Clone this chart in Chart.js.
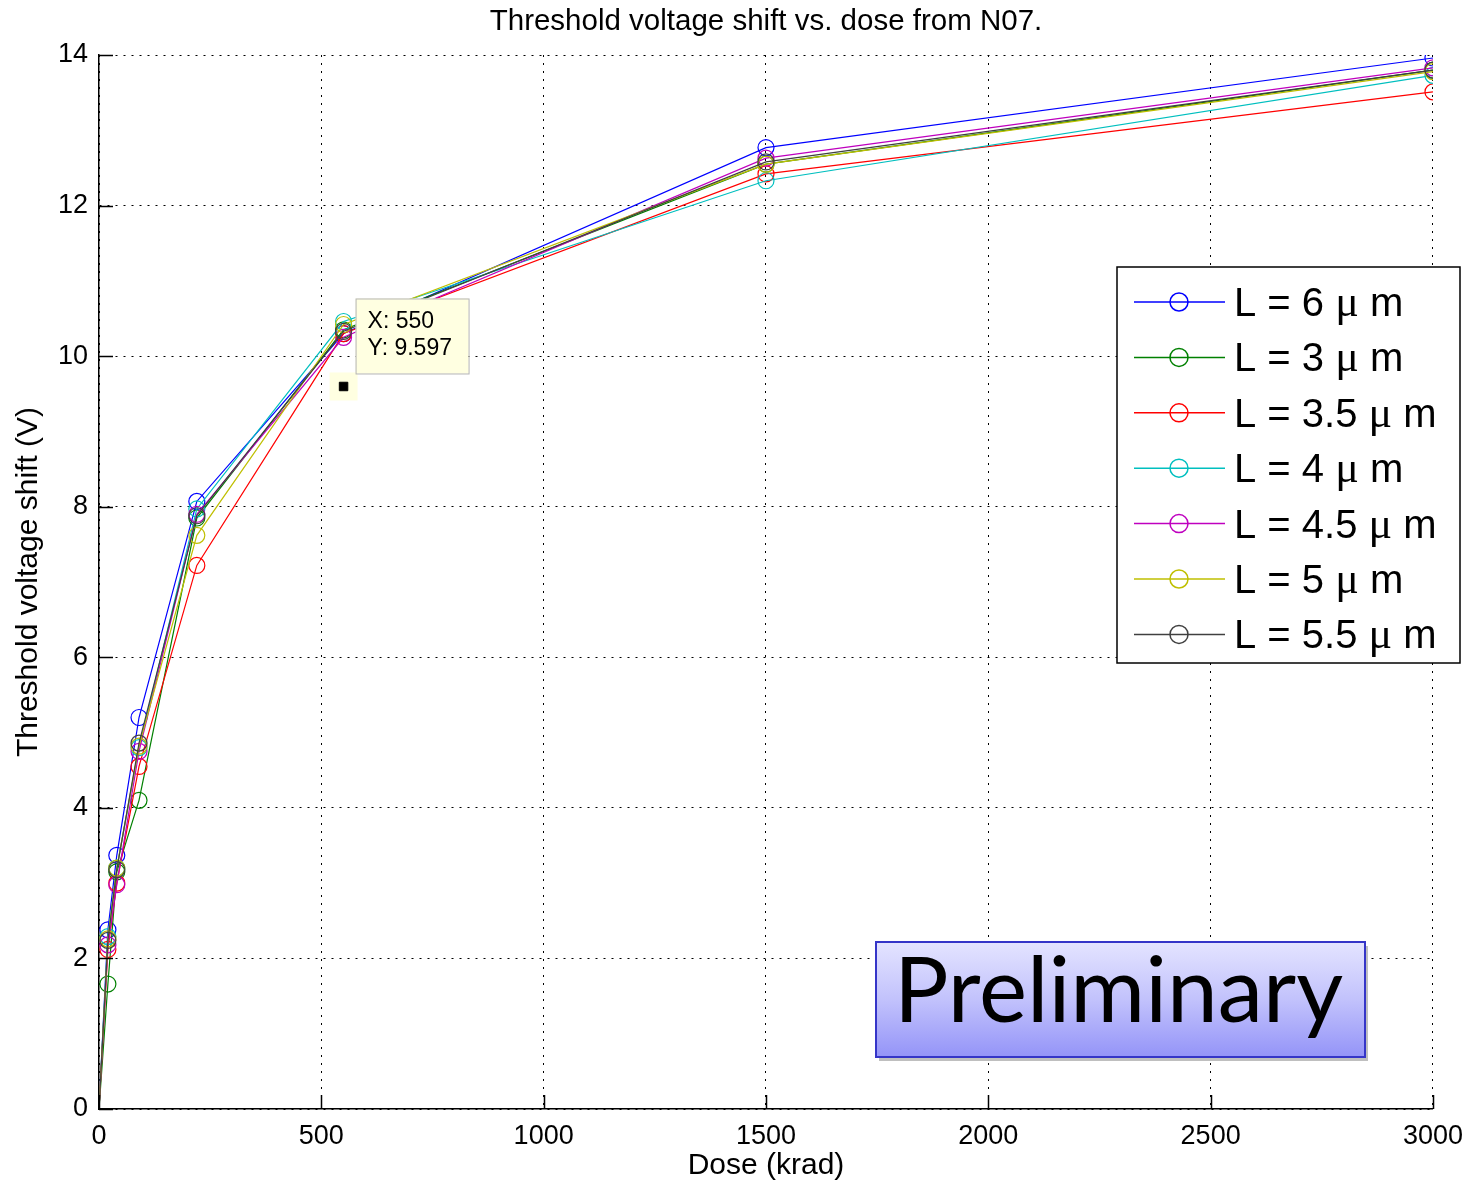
<!DOCTYPE html>
<html lang="en">
<head>
    <meta charset="UTF-8">
    <title>Threshold voltage shift vs. dose from N07.</title>
    <script src="https://cdn.jsdelivr.net/npm/chart.js"></script>
    <style>
        html, body { margin: 0; padding: 0; background: #fff; }
        #wrap { width: 1474px; height: 1186px; position: relative; }
    </style>
</head>
<body>
    <div id="wrap"><canvas id="vthChart"></canvas></div>
    <script>
// dose points (krad) and threshold voltage shift (V) per gate length
const doses = [0, 20, 40, 90, 220, 550, 1500, 3000];
const shiftL6   = [0, 2.38, 3.37, 5.20, 8.07, 10.30, 12.77, 13.96];
const shiftL3   = [0, 1.66, 3.15, 4.10, 7.85, 10.35, 12.55, 13.80];
const shiftL3_5 = [0, 2.12, 3.00, 4.55, 7.22, 10.30, 12.42, 13.51];
const shiftL4   = [0, 2.29, 3.20, 4.80, 7.97, 10.46, 12.33, 13.73];
const shiftL4_5 = [0, 2.18, 2.98, 4.75, 7.90, 10.25, 12.63, 13.83];
const shiftL5   = [0, 2.26, 3.20, 4.82, 7.62, 10.42, 12.55, 13.78];
const shiftL5_5 = [0, 2.24, 3.18, 4.86, 7.88, 10.33, 12.58, 13.80];

const lengths = ['6', '3', '3.5', '4', '4.5', '5', '5.5'];
const seriesValues = [shiftL6, shiftL3, shiftL3_5, shiftL4, shiftL4_5, shiftL5, shiftL5_5];
const colors = ['#0000ff', '#008000', '#ff0000', '#00bfbf', '#bf00bf', '#bfbf00', '#404040'];

// datatip shown on the plot
const tipX = [550];
const tipY = [9.597];

const xTicks = [0, 500, 1000, 1500, 2000, 2500, 3000];
const yTicks = [0, 2, 4, 6, 8, 10, 12, 14];

const SANS = '"Liberation Sans", Arial, sans-serif';

const datasets = seriesValues.map((vals, i) => ({
    label: 'L = ' + lengths[i] + ' \u03bc m',
    data: doses.map((d, k) => ({ x: d, y: vals[k] })),
    showLine: true,
    borderColor: colors[i],
    borderWidth: 1.2,
    backgroundColor: 'rgba(0,0,0,0)',
    pointBorderColor: colors[i],
    pointBackgroundColor: 'rgba(0,0,0,0)',
    pointBorderWidth: 1.2,
    pointRadius: doses.map(d => d === 0 ? 0 : 8),
    pointHoverRadius: 8,
    order: seriesValues.length - i + 1
}));

datasets.push({
    label: 'datatip',
    data: tipX.map((x, k) => ({ x: x, y: tipY[k] })),
    showLine: false,
    pointStyle: 'rect',
    pointRadius: 6,
    pointBackgroundColor: '#000',
    pointBorderColor: '#000',
    order: 0
});

const overlay = {
    id: 'overlay',
    beforeDatasetsDraw(chart) {
        const ctx = chart.ctx;
        const xs = chart.scales.x, ys = chart.scales.y;
        const px = xs.getPixelForValue(tipX[0]);
        const py = ys.getPixelForValue(tipY[0]);
        ctx.save();
        ctx.fillStyle = '#ffffe1';
        ctx.fillRect(px - 14, py - 14, 28, 28);
        ctx.restore();
    },
    afterDraw(chart) {
        const ctx = chart.ctx;
        const area = chart.chartArea;
        const xs = chart.scales.x, ys = chart.scales.y;
        ctx.save();

        // title
        ctx.fillStyle = '#000';
        ctx.font = '29.5px ' + SANS;
        ctx.textAlign = 'center';
        ctx.textBaseline = 'middle';
        ctx.fillText('Threshold voltage shift vs. dose from N07.', 766, 22);

        // inward tick marks
        ctx.strokeStyle = '#000';
        ctx.lineWidth = 1.5;
        ctx.beginPath();
        xTicks.forEach(v => {
            const p = Math.round(xs.getPixelForValue(v)) + 0.5;
            ctx.moveTo(p, area.bottom);
            ctx.lineTo(p, area.bottom - 14);
        });
        yTicks.forEach(v => {
            const p = Math.round(ys.getPixelForValue(v)) + 0.5;
            ctx.moveTo(area.left, p);
            ctx.lineTo(area.left + 14, p);
        });
        ctx.stroke();

        // datatip box
        const px = xs.getPixelForValue(tipX[0]);
        const py = ys.getPixelForValue(tipY[0]);
        const bx = px + 12, by = py - 88;
        ctx.fillStyle = '#ffffe1';
        ctx.strokeStyle = '#b4b4b4';
        ctx.lineWidth = 1;
        ctx.fillRect(bx, by, 113, 75);
        ctx.strokeRect(bx + 0.5, by + 0.5, 113, 75);
        ctx.fillStyle = '#000';
        ctx.font = '23px ' + SANS;
        ctx.textAlign = 'left';
        ctx.textBaseline = 'middle';
        ctx.fillText('X: ' + tipX[0], bx + 12, by + 23);
        ctx.fillText('Y: ' + tipY[0], bx + 12, by + 50);

        // legend
        const lx = 1117, ly = 267, lw = 343, lh = 396;
        ctx.fillStyle = '#fff';
        ctx.fillRect(lx, ly, lw, lh);
        ctx.strokeStyle = '#000';
        ctx.lineWidth = 1.5;
        ctx.strokeRect(lx, ly, lw, lh);
        lengths.forEach((len, i) => {
            const cy = ly + 35 + i * 55.4;
            ctx.strokeStyle = colors[i];
            ctx.lineWidth = 1.5;
            ctx.beginPath();
            ctx.moveTo(lx + 17, cy);
            ctx.lineTo(lx + 108, cy);
            ctx.stroke();
            ctx.beginPath();
            ctx.arc(lx + 62, cy, 9, 0, Math.PI * 2);
            ctx.stroke();
            ctx.fillStyle = '#000';
            ctx.textAlign = 'left';
            ctx.textBaseline = 'alphabetic';
            let tx = lx + 117;
            const base = cy + 14;
            ctx.font = '40px ' + SANS;
            const head = 'L = ' + len + ' ';
            ctx.fillText(head, tx, base);
            tx += ctx.measureText(head).width;
            ctx.font = '44px "Liberation Serif", "Times New Roman", serif';
            ctx.fillText('\u03bc', tx, base);
            tx += ctx.measureText('\u03bc').width;
            ctx.font = '40px ' + SANS;
            ctx.fillText(' m', tx, base);
        });

        // "Preliminary" stamp
        const sx = 876, sy = 942, sw = 489, sh = 115;
        ctx.fillStyle = 'rgba(0,0,0,0.25)';
        ctx.fillRect(sx + 3, sy + 4, sw, sh);
        const grad = ctx.createLinearGradient(0, sy, 0, sy + sh);
        grad.addColorStop(0, '#e4e4ff');
        grad.addColorStop(0.5, '#c2c2fc');
        grad.addColorStop(1, '#9494f8');
        ctx.fillStyle = grad;
        ctx.fillRect(sx, sy, sw, sh);
        ctx.strokeStyle = '#3535c8';
        ctx.lineWidth = 2;
        ctx.strokeRect(sx, sy, sw, sh);
        ctx.fillStyle = '#000';
        ctx.font = '91px Lato, "Open Sans", sans-serif';
        ctx.textAlign = 'center';
        ctx.textBaseline = 'alphabetic';
        ctx.fillText('Preliminary', sx + sw / 2 - 2, sy + 80);

        ctx.restore();
    }
};

const chart = new Chart(document.getElementById('vthChart'), {
    type: 'scatter',
    data: { datasets: datasets },
    options: {
        responsive: true,
        maintainAspectRatio: false,
        animation: false,
        events: [],
        layout: { padding: { top: 55, right: 38, left: 0, bottom: 0 } },
        plugins: {
            legend: { display: false },
            title: { display: false },
            tooltip: { enabled: false }
        },
        scales: {
            x: {
                type: 'linear',
                min: 0,
                max: 3000,
                afterFit(scale) { scale.height = 77; },
                afterBuildTicks(scale) { scale.ticks = xTicks.map(v => ({ value: v })); },
                grid: { color: '#000', lineWidth: 1, drawTicks: false },
                border: { display: true, color: '#000', width: 1.5, dash: [2, 6] },
                ticks: {
                    color: '#000', padding: 11, maxRotation: 0,
                    font: { family: SANS, size: 27 },
                    callback: v => String(v)
                },
                title: {
                    display: true,
                    text: 'Dose (krad)',
                    color: '#000',
                    font: { family: SANS, size: 30 },
                    padding: { top: 2, bottom: 2 }
                }
            },
            y: {
                type: 'linear',
                min: 0,
                max: 14,
                afterFit(scale) { scale.width = 99; },
                afterBuildTicks(scale) { scale.ticks = yTicks.map(v => ({ value: v })); },
                grid: { color: '#000', lineWidth: 1, drawTicks: false },
                border: { display: true, color: '#000', width: 1.5, dash: [2, 6] },
                ticks: {
                    color: '#000', padding: 11,
                    font: { family: SANS, size: 27 },
                    callback: v => String(v)
                },
                title: {
                    display: true,
                    text: 'Threshold voltage shift (V)',
                    color: '#000',
                    font: { family: SANS, size: 30 },
                    padding: { top: 11, bottom: 11 }
                }
            }
        }
    },
    plugins: [overlay]
});
    </script>
</body>
</html>
